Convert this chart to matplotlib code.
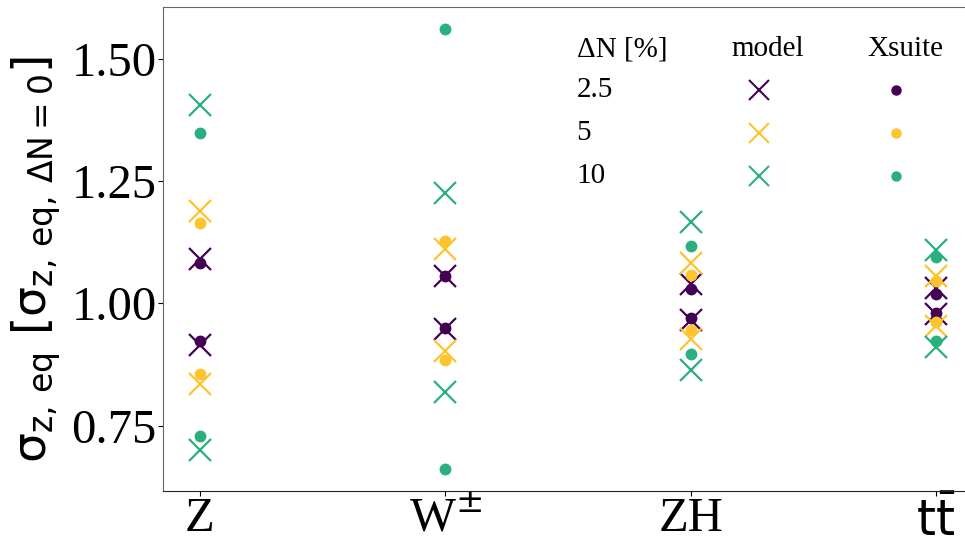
import numpy as np
import matplotlib
matplotlib.use('Agg')
import matplotlib.pyplot as plt

plt.rcParams['font.family'] = ['Liberation Serif', 'DejaVu Sans']
plt.rcParams['mathtext.fontset'] = 'dejavusans'

# categories (each has a +dN and -dN entry)
categories = ['Z', r'W$^{\pm}$', 'ZH', r'$\mathrm{t\bar{t}}$']
dN_labels = ['2.5', '5', '10']
colors = ['#440154', '#fcc42d', '#2ab07f']

# model prediction, two values per category
model_25 = [[1.090, 0.915], [1.055, 0.948], [1.039, 0.966], [1.032, 0.978]]
model_5 = [[1.189, 0.836], [1.110, 0.902], [1.082, 0.928], [1.056, 0.954]]
model_10 = [[1.405, 0.700], [1.226, 0.819], [1.167, 0.863], [1.108, 0.910]]

# Xsuite tracking results
xsuite_25 = [[1.082, 0.923], [1.055, 0.950], [1.030, 0.971], [1.020, 0.981]]
xsuite_5 = [[1.165, 0.855], [1.127, 0.884], [1.058, 0.945], [1.046, 0.961]]
xsuite_10 = [[1.349, 0.729], [1.560, 0.662], [1.117, 0.896], [1.095, 0.922]]

models = [model_25, model_5, model_10]
xsuites = [xsuite_25, xsuite_5, xsuite_10]

fig = plt.figure(figsize=(9.65, 5.4), dpi=100)
ax = fig.add_axes([163/965, (540-490.7)/540, 810/965, 483.4/540])

x = np.arange(len(categories))
for c, mod, xs in zip(colors, models, xsuites):
    mod = np.array(mod)
    xs = np.array(xs)
    for k in range(2):
        ax.plot(x, mod[:, k], 'x', color=c, ms=16, mew=1.6, ls='none')
        ax.plot(x, xs[:, k], 'o', color=c, ms=7.5, ls='none')

ax.set_xticks(x)
ax.set_xticklabels(categories, fontsize=35)
ax.tick_params(axis='x', pad=1)
ax.set_yticks([0.75, 1.0, 1.25, 1.5])
ax.set_yticklabels(['0.75', '1.00', '1.25', '1.50'], fontsize=35)
ax.tick_params(axis='y', pad=1)
ax.set_ylabel(r'$\mathrm{\sigma}_{\mathrm{z,\,eq}}\ [\mathrm{\sigma}_{\mathrm{z,\,eq,\,\Delta N = 0}}]$',
              fontsize=34)
ax.yaxis.set_label_coords(-0.123, 0.4775)

for s in ['left', 'top', 'right']:
    ax.spines[s].set_color('#666666')
ax.spines['bottom'].set_color('#222222')

# legend as a small table
tr = ax.transAxes
rows_y = [0.829, 0.740, 0.651]
ax.text(0.5105, 0.9135, 'ΔN [%]', transform=tr, fontsize=21, ha='left', va='center')
ax.text(0.746, 0.9135, 'model', transform=tr, fontsize=21, ha='center', va='center')
ax.text(0.916, 0.9135, 'Xsuite', transform=tr, fontsize=21, ha='center', va='center')
for lab, c, yy in zip(dN_labels, colors, rows_y):
    ax.text(0.5105, yy, lab, transform=tr, fontsize=21, ha='left', va='center')
    ax.plot([0.736], [yy], 'x', color=c, ms=15, mew=1.5, transform=tr, clip_on=False)
    ax.plot([0.905], [yy], 'o', color=c, ms=6.5, transform=tr, clip_on=False)

fig.savefig('out.png', dpi=100)
